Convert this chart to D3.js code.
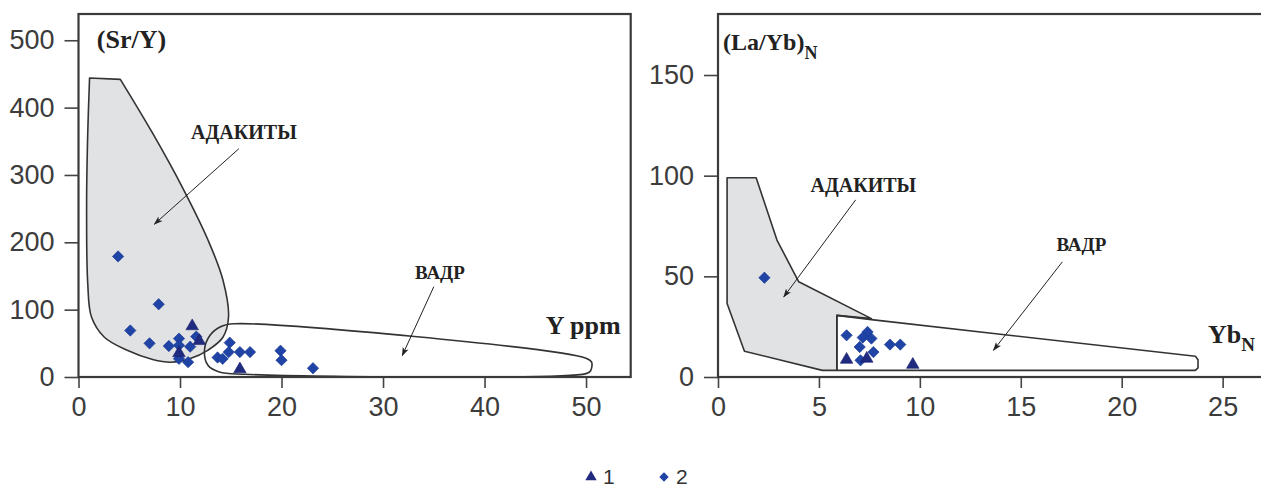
<!DOCTYPE html>
<html>
<head>
<meta charset="utf-8">
<script src="https://cdn.jsdelivr.net/npm/d3@7"></script>
<style>
  body { margin: 0; background: #fff; }
  svg { display: block; }
</style>
</head>
<body>
<svg id="chart"></svg>
<script>
// ---- data: left diagram (Sr/Y vs Y ppm) ----
const srTriX = [11.2, 11.9, 9.9, 15.9];
const srTriY = [77, 55, 37, 13];
const srDiaX = [3.9, 7.9, 5.1, 7.0, 8.9, 9.9, 9.9, 9.9, 10.8, 11.0, 11.6, 13.7, 14.2, 14.9, 14.8, 15.9, 16.9, 19.9, 20.0, 23.1];
const srDiaY = [179, 108, 69, 50, 46, 57, 47, 27, 22, 45, 60, 29, 27, 51, 37, 37, 37, 39, 25, 13];
// adakite field outline, from the top-right corner round to the top-left corner
const srAdakX = [4.12, 7.3, 10.22, 12.77, 14.23, 14.78, 14.23, 12.77, 10.95, 9.12, 7.3, 4.74, 2.55, 1.28, 0.91, 0.8, 0.91, 1.09];
const srAdakY = [442, 362, 282, 203, 144, 89, 59, 40, 27, 22, 26, 40, 59, 89, 139, 262, 362, 444];
const srVadrX = [15.33, 50.0, 50.55, 50.44, 50.0, 16.42, 13.87, 12.77, 12.41, 12.96, 14.05];
const srVadrY = [79, 28, 22, 9, 5, 4, 7.4, 17, 40, 62, 75];
const srXTicks = [0, 10, 20, 30, 40, 50];
const srYTicks = [0, 100, 200, 300, 400, 500];

// ---- data: right diagram ((La/Yb)N vs YbN) ----
const laTriX = [6.37, 7.37, 9.65];
const laTriY = [9.1, 9.6, 6.6];
const laDiaX = [2.3, 6.37, 7.41, 7.17, 7.6, 7.02, 7.7, 7.06, 8.52, 9.03];
const laDiaY = [49.3, 20.7, 22.4, 19.6, 19.1, 14.9, 12.4, 8.3, 16.1, 16.1];
const laAdakX = [0.45, 1.89, 2.92, 4.0, 7.6, 5.89, 5.89, 5.17, 1.31, 0.45];
const laAdakY = [99, 99, 68, 47.3, 29, 30.6, 3.3, 3.3, 12.8, 36.5];
const laVadrX = [5.89, 7.6, 23.65, 23.78, 23.78, 23.65, 5.89];
const laVadrY = [30.6, 28.5, 10.3, 8.6, 4.5, 3.3, 3.3];
const laXTicks = [0, 5, 10, 15, 20, 25];
const laYTicks = [0, 50, 100, 150];

const legendLabels = ["1", "2"];

const W = 1261, H = 489;
const svg = d3.select("#chart").attr("width", W).attr("height", H);

const ink = "#333";
const tickInk = "#3c3c3c";
const triFill = "#202a7e";
const diaFill = "#1f44a6";
const regionFill = "#e1e2e4";
const serif = "'Liberation Serif', 'Times New Roman', serif";

const defs = svg.append("defs");
defs.append("marker")
  .attr("id", "arr")
  .attr("viewBox", "0 -4 10 8")
  .attr("refX", 9).attr("refY", 0)
  .attr("markerWidth", 9).attr("markerHeight", 8)
  .attr("markerUnits", "userSpaceOnUse")
  .attr("orient", "auto")
  .append("path")
  .attr("d", "M0,-3.5L10,0L0,3.5L2.5,0Z")
  .attr("fill", "#222");

const zip = (xs, ys) => xs.map((v, i) => [v, ys[i]]);

function panel(cfg) {
  const x = d3.scaleLinear().domain(cfg.xDom).range(cfg.xRange);
  const y = d3.scaleLinear().domain(cfg.yDom).range([377, 14]);
  const g = svg.append("g");

  // fields
  const adakLine = d3.line().x(d => x(d[0])).y(d => y(d[1])).curve(cfg.adakCurve);
  const vadrLine = d3.line().x(d => x(d[0])).y(d => y(d[1])).curve(cfg.vadrCurve);
  g.append("path")
    .attr("d", adakLine(zip(cfg.adakX, cfg.adakY)) + "Z")
    .attr("fill", regionFill)
    .attr("stroke", ink).attr("stroke-width", 1.6).attr("stroke-linejoin", "round");
  g.append("path")
    .attr("d", vadrLine(zip(cfg.vadrX, cfg.vadrY)))
    .attr("fill", "none")
    .attr("stroke", ink).attr("stroke-width", 1.6).attr("stroke-linejoin", "round");

  // axes
  const ya = g.append("g").attr("transform", `translate(${cfg.xRange[0]},0)`)
    .call(d3.axisLeft(y).tickValues(cfg.yTicks).tickSize(14).tickPadding(10));
  const xa = g.append("g").attr("transform", "translate(0,377)")
    .call(d3.axisBottom(x).tickValues(cfg.xTicks).tickSize(11).tickPadding(9));
  [ya, xa].forEach(a => {
    a.select(".domain").remove();
    a.selectAll("line").attr("stroke", "#444").attr("stroke-width", 1.6);
    a.selectAll("text")
      .attr("fill", tickInk)
      .style("font-family", "'Liberation Sans', Arial, sans-serif")
      .style("font-size", "27px");
  });

  // frame
  g.append("rect")
    .attr("x", cfg.xRange[0]).attr("y", 14)
    .attr("width", cfg.xRange[1] - cfg.xRange[0]).attr("height", 363)
    .attr("fill", "none").attr("stroke", "#3a3a3a").attr("stroke-width", 2.2);

  // arrows + field names
  cfg.notes.forEach(n => {
    g.append("line")
      .attr("x1", x(n.from[0])).attr("y1", y(n.from[1]))
      .attr("x2", x(n.to[0])).attr("y2", y(n.to[1]))
      .attr("stroke", "#222").attr("stroke-width", 1)
      .attr("marker-end", "url(#arr)");
    g.append("text")
      .attr("x", x(n.at[0])).attr("y", y(n.at[1]))
      .attr("text-anchor", "middle")
      .style("font-family", serif)
      .style("font-weight", "bold")
      .style("font-size", n.size + "px")
      .attr("fill", "#222")
      .text(n.text);
  });

  // samples
  const tri = d3.symbol(d3.symbolTriangle).size(68);
  const dia = d3.symbol(d3.symbolSquare).size(64);
  g.append("g").selectAll("path")
    .data(zip(cfg.diaX, cfg.diaY)).join("path")
    .attr("d", dia)
    .attr("transform", d => `translate(${x(d[0])},${y(d[1])}) rotate(45)`)
    .attr("fill", diaFill).attr("stroke", "#1a3792").attr("stroke-width", 0.6);
  g.append("g").selectAll("path")
    .data(zip(cfg.triX, cfg.triY)).join("path")
    .attr("d", tri)
    .attr("transform", d => `translate(${x(d[0])},${y(d[1]) + 1})`)
    .attr("fill", triFill).attr("stroke", "#1a2270").attr("stroke-width", 0.6);

  return { g, x, y };
}

// left panel
const L = panel({
  xDom: [0, 54.4], xRange: [78.5, 630.7], yDom: [0, 539],
  xTicks: srXTicks, yTicks: srYTicks,
  adakX: srAdakX, adakY: srAdakY, vadrX: srVadrX, vadrY: srVadrY,
  triX: srTriX, triY: srTriY, diaX: srDiaX, diaY: srDiaY,
  adakCurve: d3.curveCatmullRom.alpha(0.5),
  vadrCurve: d3.curveCatmullRomClosed.alpha(0.5),
  notes: [
    { text: "АДАКИТЫ", at: [16.3, 353], from: [15.8, 339], to: [7.48, 227], size: 20 },
    { text: "ВАДР", at: [35.6, 145], from: [35.0, 134], to: [31.9, 32], size: 19 }
  ]
});
L.g.append("text")
  .attr("x", L.x(1.8)).attr("y", L.y(488))
  .style("font-family", serif).style("font-weight", "bold").style("font-size", "26px")
  .attr("fill", "#222").text("(Sr/Y)");
L.g.append("text")
  .attr("x", L.x(53.4)).attr("y", L.y(64)).attr("text-anchor", "end")
  .style("font-family", serif).style("font-weight", "bold").style("font-size", "26px")
  .attr("fill", "#222").text("Y ppm");

// right panel
const R = panel({
  xDom: [0, 27.0], xRange: [718, 1263], yDom: [0, 180.3],
  xTicks: laXTicks, yTicks: laYTicks,
  adakX: laAdakX, adakY: laAdakY, vadrX: laVadrX, vadrY: laVadrY,
  triX: laTriX, triY: laTriY, diaX: laDiaX, diaY: laDiaY,
  adakCurve: d3.curveLinear,
  vadrCurve: d3.curveLinearClosed,
  notes: [
    { text: "АДАКИТЫ", at: [7.2, 92], from: [6.82, 88], to: [3.26, 39.8], size: 20 },
    { text: "ВАДР", at: [18.0, 62.7], from: [17.06, 57.2], to: [13.65, 13.3], size: 19 }
  ]
});
const laLab = R.g.append("text")
  .attr("x", R.x(0.25)).attr("y", R.y(162.5))
  .style("font-family", serif).style("font-weight", "bold").style("font-size", "24px")
  .attr("fill", "#222");
laLab.append("tspan").text("(La/Yb)");
laLab.append("tspan").attr("dy", 9).style("font-size", "18px").text("N");
const ybLab = R.g.append("text")
  .attr("x", R.x(24.27)).attr("y", R.y(16.9))
  .style("font-family", serif).style("font-weight", "bold").style("font-size", "26px")
  .attr("fill", "#222");
ybLab.append("tspan").text("Yb");
ybLab.append("tspan").attr("dy", 8).style("font-size", "19px").text("N");

// legend
const leg = svg.append("g").attr("transform", "translate(0,477)");
const legItems = [
  { sym: d3.symbolTriangle, size: 56, fill: triFill, x: 591 },
  { sym: d3.symbolSquare, size: 44, fill: diaFill, x: 664, rot: 45 }
];
legItems.forEach((it, i) => {
  leg.append("path")
    .attr("d", d3.symbol(it.sym).size(it.size))
    .attr("transform", `translate(${it.x},0) rotate(${it.rot || 0})`)
    .attr("fill", it.fill);
  leg.append("text")
    .attr("x", it.x + 12).attr("y", 7)
    .style("font-family", "'Liberation Sans', Arial, sans-serif")
    .style("font-size", "21px")
    .attr("fill", "#333")
    .text(legendLabels[i]);
});
</script>
</body>
</html>
